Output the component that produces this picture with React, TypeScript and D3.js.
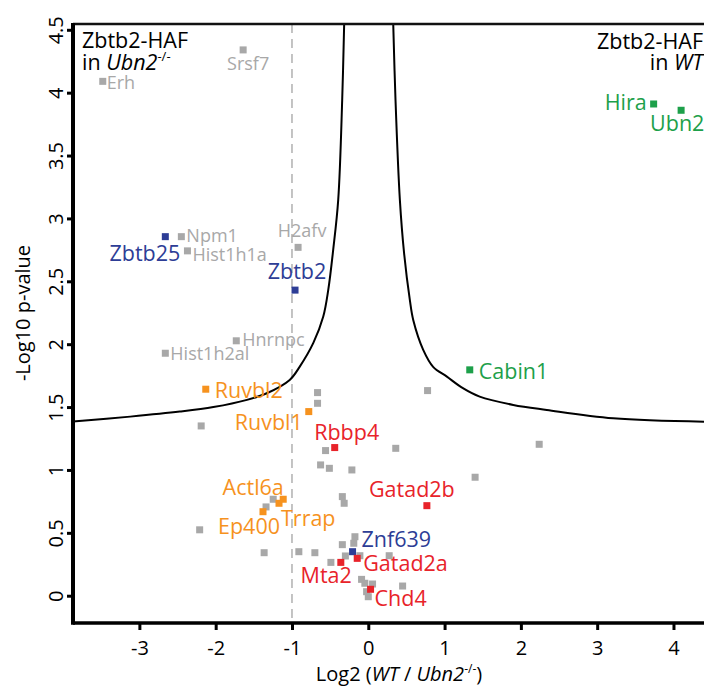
import * as React from "react";
import * as d3 from "d3";

const width = 704;
const height = 689;
const font = "'Open Sans', sans-serif";

// labelled proteins
const geneNames = [
  "Srsf7", "Erh", "Hira", "Ubn2", "Zbtb25", "Npm1", "Hist1h1a", "H2afv",
  "Zbtb2", "Hnrnpc", "Hist1h2al", "Ruvbl2", "Ruvbl1", "Cabin1", "Rbbp4",
  "Gatad2b", "Actl6a", "Trrap", "Ep400", "Znf639", "Gatad2a", "Mta2", "Chd4",
];
const geneLog2 = [
  -1.64, -3.48, 3.74, 4.1, -2.66, -2.45, -2.37, -0.92,
  -0.96, -1.73, -2.66, -2.13, -0.78, 1.33, -0.44,
  0.768, -1.115, -1.17, -1.38, -0.206, -0.145, -0.36, 0.03,
];
const geneNegLogP = [
  4.34, 4.09, 3.91, 3.86, 2.855, 2.855, 2.742, 2.77,
  2.43, 2.027, 1.928, 1.642, 1.464, 1.796, 1.178,
  0.716, 0.767, 0.735, 0.668, 0.35, 0.297, 0.265, 0.051,
];
const geneGroup = [
  "gray", "gray", "green", "green", "blue", "gray", "gray", "gray",
  "blue", "gray", "gray", "orange", "orange", "green", "red",
  "red", "orange", "orange", "orange", "blue", "red", "red", "red",
];

// unlabelled proteins
const otherLog2 = [
  -0.665, -0.665, -2.19, 0.777, -0.56, 0.36, -0.625, -0.51, -0.215, 1.4, 2.24,
  -0.34, -0.316, -1.246, -1.34, -2.21, -1.365, -0.91, -0.7, -0.34, -0.175,
  -0.19, -0.3, -0.11, 0.274, -0.49, -0.088, -0.045, 0.056, -0.022, 0, 0.45,
];
const otherNegLogP = [
  1.615, 1.53, 1.35, 1.631, 1.154, 1.172, 1.04, 1.013, 1.0, 0.942, 1.204,
  0.788, 0.735, 0.767, 0.706, 0.524, 0.342, 0.35, 0.342, 0.406, 0.469,
  0.417, 0.316, 0.318, 0.318, 0.265, 0.13, 0.099, 0.093, 0.032, -0.008, 0.077,
];

// significance threshold
const leftCutX = [-3.87, -3.12, -2.47, -2.03, -1.59, -1.33, -1.03, -0.9, -0.72, -0.59, -0.525, -0.46, -0.394, -0.342, -0.316];
const leftCutY = [1.385, 1.424, 1.464, 1.5, 1.557, 1.61, 1.716, 1.82, 2.01, 2.22, 2.43, 2.75, 3.148, 3.94, 4.546];
const rightCutX = [0.327, 0.357, 0.414, 0.47, 0.545, 0.59, 0.72, 0.85, 1.03, 1.24, 1.46, 1.9, 2.34, 3.21, 4.4];
const rightCutY = [4.546, 3.94, 3.148, 2.72, 2.35, 2.19, 1.955, 1.82, 1.742, 1.65, 1.583, 1.517, 1.477, 1.411, 1.384];

const xTicks = [-3, -2, -1, 0, 1, 2, 3, 4];
const yTicks = [0, 0.5, 1, 1.5, 2, 2.5, 3, 3.5, 4, 4.5];

const colors = {
  gray: "#a8a8a8",
  blue: "#2d3d96",
  green: "#1da04a",
  orange: "#f6921e",
  red: "#e8232a",
};

// label offsets from the point: dx, dy, anchor
const labelPos = {
  Srsf7: [5, 20, "middle"],
  Erh: [4, 8, "start"],
  Hira: [-7, 6, "end"],
  Ubn2: [-31, 21, "start"],
  Zbtb25: [15, 24, "end"],
  Npm1: [5, 5, "start"],
  Hist1h1a: [5, 10, "start"],
  H2afv: [4, -10, "middle"],
  Zbtb2: [2, -11, "middle"],
  Hnrnpc: [6, 5, "start"],
  Hist1h2al: [5, 7, "start"],
  Ruvbl2: [9, 9, "start"],
  Ruvbl1: [-6, 18, "end"],
  Cabin1: [9, 9, "start"],
  Rbbp4: [12, -8, "middle"],
  Gatad2b: [-15, -9, "middle"],
  Actl6a: [-30, -4, "middle"],
  Trrap: [2, 23, "start"],
  Ep400: [17, 22, "end"],
  Znf639: [9, -5, "start"],
  Gatad2a: [6, 13, "start"],
  Mta2: [11, 21, "end"],
  Chd4: [4, 17, "start"],
};

function Volcano() {
  const ref = React.useRef(null);

  React.useEffect(() => {
    const svg = d3.select(ref.current);
    svg.selectAll("*").remove();

    const x = d3.scaleLinear().domain([-3.87, 4.4]).range([73, 704]);
    const y = d3.scaleLinear().domain([-0.217, 4.546]).range([623, 24]);

    const g = svg.append("g").attr("font-family", font);

    // dashed -1 guide
    g.append("line")
      .attr("x1", x(-1))
      .attr("x2", x(-1))
      .attr("y1", y.range()[1])
      .attr("y2", y.range()[0])
      .attr("stroke", "#b5b5b5")
      .attr("stroke-width", 1.6)
      .attr("stroke-dasharray", "9,6");

    // threshold curve
    const line = d3
      .line()
      .x((d) => x(d[0]))
      .y((d) => y(d[1]))
      .curve(d3.curveCatmullRom.alpha(0.5));

    [
      [leftCutX, leftCutY],
      [rightCutX, rightCutY],
    ].forEach(([cx, cy]) => {
      g.append("path")
        .datum(cx.map((v, i) => [v, cy[i]]))
        .attr("d", line)
        .attr("fill", "none")
        .attr("stroke", "#000")
        .attr("stroke-width", 2);
    });

    // axes
    const xAxis = d3
      .axisBottom(x)
      .tickValues(xTicks)
      .tickSize(7)
      .tickFormat((d) => String(d));
    const yAxis = d3
      .axisLeft(y)
      .tickValues(yTicks)
      .tickSize(6)
      .tickFormat((d) => String(d));

    const gx = g
      .append("g")
      .attr("transform", `translate(0,${y.range()[0]})`)
      .call(xAxis);
    gx.select(".domain").remove();
    gx.selectAll(".tick line").attr("stroke", "#000").attr("stroke-width", 3);
    gx.selectAll(".tick text")
      .attr("y", 32)
      .attr("dy", 0)
      .attr("font-size", 20)
      .attr("font-family", font)
      .attr("fill", "#000");

    const gy = g
      .append("g")
      .attr("transform", `translate(${x.range()[0]},0)`)
      .call(yAxis);
    gy.select(".domain").remove();
    gy.selectAll(".tick line").attr("stroke", "#000").attr("stroke-width", 3);
    gy.selectAll(".tick text")
      .attr("x", 0)
      .attr("y", -10)
      .attr("dy", 0)
      .attr("transform", "rotate(-90)")
      .attr("text-anchor", "middle")
      .attr("font-size", 20)
      .attr("font-family", font)
      .attr("fill", "#000");

    // frame
    g.append("line")
      .attr("x1", x.range()[0])
      .attr("x2", width)
      .attr("y1", y.range()[1])
      .attr("y2", y.range()[1])
      .attr("stroke", "#111")
      .attr("stroke-width", 2.5);
    g.append("line")
      .attr("x1", x.range()[0])
      .attr("x2", width)
      .attr("y1", y.range()[0])
      .attr("y2", y.range()[0])
      .attr("stroke", "#000")
      .attr("stroke-width", 3.5);
    g.append("line")
      .attr("x1", x.range()[0])
      .attr("x2", x.range()[0])
      .attr("y1", y.range()[1] - 1)
      .attr("y2", y.range()[0] + 1.7)
      .attr("stroke", "#000")
      .attr("stroke-width", 4);

    // unlabelled points
    const s = 7;
    g.append("g")
      .selectAll("rect")
      .data(otherLog2.map((v, i) => [v, otherNegLogP[i]]))
      .join("rect")
      .attr("x", (d) => x(d[0]) - s / 2)
      .attr("y", (d) => y(d[1]) - s / 2)
      .attr("width", s)
      .attr("height", s)
      .attr("fill", colors.gray);

    const genes = geneNames.map((name, i) => ({
      name,
      fc: geneLog2[i],
      p: geneNegLogP[i],
      group: geneGroup[i],
    }));

    g.append("g")
      .selectAll("rect")
      .data(genes)
      .join("rect")
      .attr("x", (d) => x(d.fc) - s / 2)
      .attr("y", (d) => y(d.p) - s / 2)
      .attr("width", s)
      .attr("height", s)
      .attr("fill", (d) => colors[d.group]);

    g.append("g")
      .selectAll("text")
      .data(genes)
      .join("text")
      .attr("x", (d) => x(d.fc) + labelPos[d.name][0])
      .attr("y", (d) => y(d.p) + labelPos[d.name][1])
      .attr("text-anchor", (d) => labelPos[d.name][2])
      .attr("font-size", (d) => (d.group === "gray" ? 18 : 21.5))
      .attr("fill", (d) => colors[d.group])
      .text((d) => d.name);

    // condition titles
    const tl = g.append("g").attr("font-size", 21.5).attr("fill", "#000");
    tl.append("text").attr("x", 82).attr("y", 48).text("Zbtb2-HAF");
    const tl2 = tl.append("text").attr("x", 82).attr("y", 70);
    tl2.append("tspan").text("in ");
    tl2.append("tspan").attr("font-style", "italic").text("Ubn2");
    tl2.append("tspan").attr("font-size", 13).attr("dy", -9).text("-/-");

    const tr = g
      .append("g")
      .attr("font-size", 21.5)
      .attr("fill", "#000")
      .attr("text-anchor", "end");
    tr.append("text").attr("x", 703).attr("y", 49).text("Zbtb2-HAF");
    const tr2 = tr.append("text").attr("x", 703).attr("y", 70);
    tr2.append("tspan").text("in ");
    tr2.append("tspan").attr("font-style", "italic").text("WT");

    // axis titles
    const xt = g
      .append("text")
      .attr("x", 399)
      .attr("y", 681)
      .attr("text-anchor", "middle")
      .attr("font-size", 20)
      .attr("fill", "#000");
    xt.append("tspan").text("Log2 (");
    xt.append("tspan").attr("font-style", "italic").text("WT");
    xt.append("tspan").text(" / ");
    xt.append("tspan").attr("font-style", "italic").text("Ubn2");
    xt.append("tspan").attr("font-size", 12).attr("dy", -8).text("-/-");
    xt.append("tspan").attr("dy", 8).text(")");

    g.append("text")
      .attr("transform", "translate(30,313) rotate(-90)")
      .attr("text-anchor", "middle")
      .attr("font-size", 20)
      .attr("fill", "#000")
      .text("-Log10 p-value");
  }, []);

  return (
    <svg
      ref={ref}
      width={width}
      height={height}
      style={{ position: "absolute", left: 0, top: 0, background: "#fff" }}
    />
  );
}

export default function App() {
  return <Volcano />;
}
